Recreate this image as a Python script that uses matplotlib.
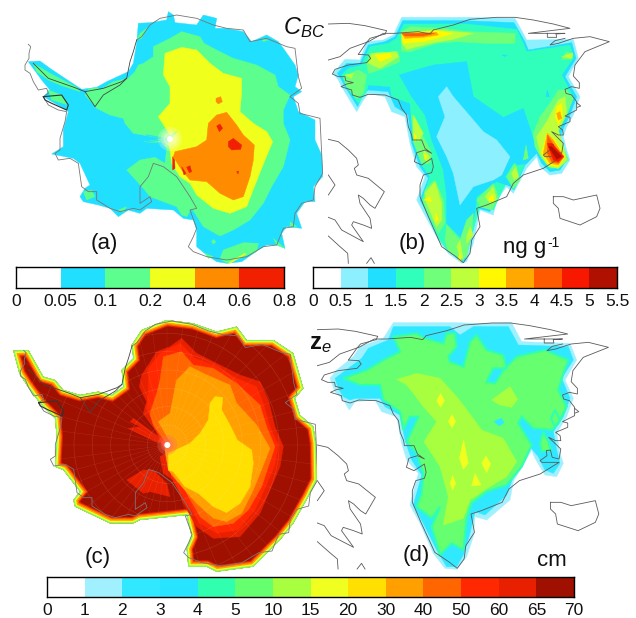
import numpy as np
import matplotlib
matplotlib.use("Agg")
import matplotlib.pyplot as plt
from matplotlib.patches import Polygon, Circle
from matplotlib.colors import ListedColormap

plt.rcParams['font.family'] = ['Liberation Sans', 'DejaVu Sans']
plt.rcParams['mathtext.fontset'] = 'custom'
plt.rcParams['mathtext.rm'] = 'Liberation Sans'
plt.rcParams['mathtext.it'] = 'Liberation Sans:italic'
plt.rcParams['mathtext.bf'] = 'Liberation Sans:bold'
plt.rcParams['mathtext.default'] = 'regular'

# ---- colour scales -------------------------------------------------------
levels_a = ['0', '0.05', '0.1', '0.2', '0.4', '0.6', '0.8']
colors_a = ['#FFFFFF', '#20DFFF', '#5CFF8E', '#F0FF1C', '#FF8C00', '#F02000']
levels_b = ['0', '0.5', '1', '1.5', '2', '2.5', '3', '3.5', '4', '4.5', '5', '5.5']
colors_b = ['#FFFFFF', '#8CF0FF', '#20DFFF', '#30FFBC', '#70FF78', '#BEFF3C',
            '#FFF800', '#FFA800', '#FF5A00', '#F81800', '#B01000']
levels_cd = ['0', '1', '2', '3', '4', '5', '10', '15', '20', '30', '40', '50', '60', '65', '70']
colors_cd = ['#FFFFFF', '#A0F0FF', '#30E8FF', '#28E4FF', '#30FFB0', '#66FF70', '#A8FF40',
             '#F0FF20', '#FFE000', '#FFA000', '#FF6600', '#FF2800', '#E82000', '#A01000']

# ---- coastlines (map coordinates) ----------------------------------------
antarctic_coast = [(85,133),(92,140),(87,160),(87,175),(75,195),(75,210),(90,220),(100,245),(115,270),(140,265),(145,280),
    (130,290),(145,315),(175,330),(200,335),(195,365),(180,415),(180,450),(165,460),(175,480),(210,475),(235,490),
    (245,560),(265,575),(290,575),(290,600),(330,625),(360,635),(400,625),(420,630),(455,605),(450,590),(420,610),
    (420,560),(445,530),(460,490),(490,500),(530,530),(570,590),(590,625),(570,630),(590,685),(580,710),(565,740),
    (580,755),(620,770),(680,780),(740,770),(790,740),(830,735),(850,685),(880,680),(885,640),(905,610),(940,600),
    (945,560),(968,520),(965,460),(960,355),(900,340),(895,310),(870,290),(905,265),(895,230),(885,145),(860,140),
    (800,115),(750,125),(730,90),(680,85),(640,75),(590,55),(530,45),(505,50),(480,55),(450,75),(425,110),(410,120)]
antarctic_inner = [(100,190),(145,235),(225,263),(255,275),(285,320),(310,285),(360,255),(380,235),(390,185),(400,155),(410,120)]
antarctic_ridge = [(255,275),(310,265),(365,245),(380,235)]
antarctic_loop = [(130,290),(185,285),(205,315),(200,330),(155,310),(135,300),(130,290)]

greenland_west = [(145,163),(175,165),(182,175),(170,188),(115,195),(75,208),(67,222),(85,230),(105,230),(107,242),(130,248),
    (110,252),(93,260),(125,270),(127,285),(150,292),(175,283),(225,285),(265,300),(275,325),(290,345),(295,380),(305,405),
    (307,420),(335,420),(345,445),(365,460),(345,450),(320,458),(313,485),(335,495),(365,475),(370,500),(365,518),(340,525),
    (330,555),(330,590),(355,650),(395,740),(435,768),(460,788),(480,760),(485,720),(510,680),(500,625),(530,615),(590,590),
    (610,550),(640,525),(700,505),(755,470),(705,470),(700,465),(720,450),(718,435),(730,433),(735,455),(755,460),(760,430),
    (725,395),(745,405),(760,405),(758,390),(745,380),(780,365),(780,352),(765,348),(800,330),(800,305),(785,285),(768,280),
    (765,268),(785,260),(808,265),(808,248),(790,228),(795,195),(825,155),(898,125),(840,110),(790,115),(745,130),(720,135),
    (735,122),(765,115)]
greenland_north = [(225,102),(180,115),(170,127),(145,163)]
greenland_north2 = [(175,125),(220,100),(255,100),(325,95),(360,102),(370,90),(430,75),(480,58),(560,52),(615,52),(670,60),
    (730,72),(780,85),(655,100),(765,100),(738,102),(740,112),(712,112),(712,100)]
islet = [(800,308),(812,318),(802,322)]
canada_a = [(55,72),(115,70),(165,77),(230,92),(225,102)]
canada_b = [(55,180),(90,170),(120,145),(175,125)]
canada_c = [(55,418),(85,425),(115,450),(140,475),(145,495),(133,505),(140,525),(175,535),(223,575),(195,625),(180,615),
    (160,595),(145,585),(150,610),(180,655),(185,685),(160,675),(130,665),(125,675),(160,725),(95,690),(75,660),(55,652)]
canada_f = [(55,525),(75,555),(55,585)]
canada_d = [(55,708),(90,740),(113,760),(115,790)]
canada_e = [(170,790),(183,773),(193,790)]
iceland = [(730,590),(760,590),(790,600),(860,585),(870,625),(860,650),(810,675),(750,655),(745,625),(730,610),(730,590)]

# ---- panel (a) regions ---------------------------------------------------
a_outer = [(85,185),(120,183),(150,205),(195,235),(245,268),(290,262),(320,245),(385,215),(400,190),(410,130),(415,70),
    (450,68),(500,60),(505,35),(520,45),(525,68),(590,75),(610,45),(650,55),(645,85),(680,85),(730,95),(755,125),
    (800,105),(835,125),(850,145),(885,195),(895,225),(885,260),(905,275),(880,290),(895,335),(945,360),(945,420),
    (965,465),(968,530),(940,560),(945,605),(915,605),(890,640),(905,685),(860,680),(845,700),(855,745),(830,735),
    (800,735),(775,750),(725,785),(680,790),(650,785),(620,765),(590,740),(590,690),(580,660),(550,655),(520,630),
    (440,625),(420,640),(385,630),(355,650),(330,625),(295,615),(250,605),(240,590),(255,565),(270,555),(240,490),
    (220,475),(155,462),(190,440),(190,390),(205,335),(190,325),(130,290),(150,270),(125,240)]
a_green = [[(545,95),(600,110),(612,130),(650,150),(700,175),(770,195),(825,225),(835,260),(870,285),(850,330),(850,370),
    (870,420),(850,500),(815,560),(790,610),(750,660),(700,690),(660,708),(610,680),(585,640),(575,625),(560,650),
    (545,645),(530,620),(450,590),(430,565),(380,510),(420,480),(465,472),(495,490),(500,445),(490,428),(430,426),
    (490,416),(400,400),(375,370),(370,355),(330,345),(290,325),(255,285),(265,268),(290,262),(300,270),(340,245),
    (385,235),(410,260),(410,285),(435,290),(415,315),(400,325),(395,315),(410,300),(380,240),(405,215),(415,195),
    (430,190),(460,170),(460,140),(510,115)],
    [(100,190),(150,220),(230,262),(240,275),(180,255),(145,240),(110,215)],
    [(145,270),(185,285),(205,315),(155,300)],
    [(250,575),(275,570),(285,590),(260,600)],
    [(355,630),(380,620),(370,635)],
    [(420,100),(440,85),(425,115),(410,120)],
    [(615,760),(640,770),(625,775)],
    [(670,750),(730,728),(775,730),(770,755),(720,775),(680,790),(660,775)],
    [(820,715),(855,745),(830,735)],
    [(870,665),(890,680),(870,680)],
    [(640,718),(648,725),(640,733),(635,725)],
    [(785,118),(805,120),(790,125)]]
a_yellow = [[(495,160),(545,142),(590,150),(630,190),(670,220),(725,235),(725,275),(720,335),(760,370),(800,395),(818,425),
    (795,480),(775,530),(740,620),(690,640),(640,625),(590,585),(570,550),(540,530),(515,490),(510,450),(505,430),
    (535,390),(510,405),(475,350),(510,310),(510,260),(490,225)]]
a_orange = [[(625,370),(650,345),(680,337),(710,375),(730,405),(763,435),(760,480),(750,530),(730,590),(700,600),(660,580),
    (620,545),(570,540),(545,510),(520,470),(525,455),(590,440),(620,420)],
    [(648,295),(662,290),(667,305),(655,312),(648,305)]]
a_red = [[(650,378),(660,372),(668,385),(658,395)],
    [(685,425),(700,415),(725,435),(722,448),(695,450),(685,440)],
    [(560,502),(570,497),(575,515),(568,518)],
    [(518,470),(524,480),(525,505),(518,510)],
    [(545,500),(558,520),(552,525)],
    [(710,515),(716,513),(714,522)]]

# ---- panel (b) regions ---------------------------------------------------
b_light = [(275,52),(470,52),(615,55),(645,110),(650,120),(790,118),(805,175),(775,230),(810,290),(790,345),(770,380),
    (760,410),(770,450),(780,480),(755,520),(720,525),(690,500),(680,470),(650,505),(610,580),(590,560),(560,600),
    (550,645),(510,630),(490,730),(470,785),(455,790),(415,760),(385,720),(320,600),(345,530),(320,500),(300,430),
    (285,350),(245,335),(225,290),(175,280),(160,300),(140,335),(95,260),(85,240),(70,220),(105,178),(150,180),
    (170,125),(220,120),(250,105)]
b_blue = [(278,62),(465,62),(612,68),(645,125),(655,150),(785,128),(798,175),(765,230),(800,290),(780,345),(760,385),
    (750,410),(762,450),(770,480),(750,510),(720,515),(695,490),(680,460),(645,495),(612,570),(590,550),(555,590),
    (540,635),(505,625),(482,720),(465,780),(455,785),(420,755),(395,720),(330,600),(355,535),(330,500),(305,430),
    (295,345),(255,320),(235,275),(175,270),(160,280),(143,320),(105,260),(92,235),(82,220),(110,190),(150,190),
    (175,135),(225,125),(255,110)]
b_sea = [(282,72),(470,72),(620,88),(640,130),(650,155),(780,135),(790,175),(755,225),(790,290),(770,345),(745,390),
    (755,430),(775,480),(745,505),(720,505),(695,475),(680,450),(645,490),(610,570),(590,545),(550,630),(510,620),
    (480,720),(465,775),(450,775),(415,755),(385,715),(335,600),(360,530),(335,495),(310,425),(300,310),(245,290),
    (240,260),(175,255),(170,275),(145,310),(110,260),(95,225),(115,205),(155,195),(180,140),(235,130),(260,115)]
b_inner_blue = [[(268,225),(300,215),(370,195),(470,185),(490,290),(580,352),(640,325),(668,410),(680,455),(650,490),
    (625,495),(610,490),(585,530),(605,560),(560,545),(500,590),(495,640),(470,710),(455,715),(410,670),(410,590),
    (400,510),(365,420),(345,345),(305,290)],
    [(712,270),(718,290),(708,290)],
    [(576,165),(592,165),(584,170)]]
b_inner_light = [(410,260),(430,290),(520,395),(560,420),(600,470),(575,525),(550,540),(490,560),(450,615),(430,520),
    (410,470),(380,410),(405,350),(385,290)]
b_green = [[(275,95),(300,80),(400,85),(470,95),(615,100),(615,130),(530,130),(440,125),(380,130),(300,155),(275,155)],
    [(180,160),(265,155),(270,185),(210,210),(175,220),(170,190)],
    [(100,230),(145,210),(170,225),(160,280),(140,295),(110,260)],
    [(770,155),(790,165),(785,178),(755,178)],
    [(745,270),(770,270),(790,295),(770,345),(745,395),(755,430),(775,480),(745,505),(720,500),(695,475),(675,440),
     (670,400),(690,350),(720,310)],
    [(305,345),(345,420),(365,460),(360,490),(335,490),(310,425)],
    [(345,570),(375,540),(400,600),(405,670),(385,700),(340,610)],
    [(410,675),(450,720),(470,660),(490,640),(485,700),(470,770),(450,775),(415,755),(405,720)],
    [(500,600),(550,550),(565,590),(545,630),(510,620)],
    [(615,490),(630,540),(610,565),(590,530)],
    [(640,480),(648,435),(655,475)]]
b_ygreen = [[(275,100),(380,90),(490,100),(430,118),(370,128),(290,148),(275,130)],
    [(185,160),(260,155),(265,170),(210,205),(175,190)],
    [(105,225),(130,220),(125,235)],
    [(755,170),(788,158),(785,175)],
    [(745,300),(765,290),(770,340),(745,390),(760,440),(770,480),(745,505),(715,500),(690,460),(680,410),(710,365)],
    [(310,345),(340,400),(325,425),(310,400)],
    [(340,450),(360,470),(350,490)],
    [(345,580),(375,545),(395,610),(395,660),(380,680),(350,610)],
    [(440,740),(450,720),(460,780),(450,770)],
    [(470,710),(480,680),(490,705),(470,730)],
    [(525,590),(550,560),(560,600),(540,610)],
    [(605,520),(618,500),(625,530),(612,540)]]
b_yellow = [[(275,100),(380,92),(430,100),(380,115),(340,125),(280,130)],
    [(195,165),(240,160),(245,170),(210,185)],
    [(740,320),(755,310),(758,350),(745,375),(735,350)],
    [(710,400),(735,420),(765,470),(745,500),(715,495),(695,460)],
    [(310,400),(320,410),(315,425)],
    [(340,460),(350,470),(345,480)],
    [(340,600),(360,590),(365,605)],
    [(378,640),(385,660),(375,665)],
    [(448,760),(455,785),(445,780)],
    [(540,590),(550,585),(552,605),(535,600)]]
b_amber = [[(275,100),(380,97),(385,105),(340,112),(285,115)],
    [(740,340),(750,335),(755,355),(745,360)],
    [(712,400),(730,420),(762,470),(745,495),(720,490),(700,460)]]
b_dorange = [[(275,100),(375,100),(340,108),(285,108)],
    [(712,405),(735,440),(762,470),(745,490),(725,485),(712,460)]]
b_red = [[(712,430),(725,430),(760,470),(745,485),(730,480)]]
b_dark = [[(716,440),(725,440),(755,470),(740,478)]]

# ---- panel (c) regions ---------------------------------------------------
c_outline = [(40,122),(85,120),(130,200),(165,210),(190,240),(240,255),(295,245),(335,255),(370,230),(365,180),(400,145),
    (395,105),(425,60),(500,30),(580,40),(650,65),(710,50),(740,90),(820,90),(880,130),(910,235),(885,265),(900,315),
    (940,350),(948,400),(950,510),(925,560),(880,640),(840,690),(760,770),(650,785),(620,770),(565,770),(560,715),
    (575,680),(560,615),(420,630),(400,640),(330,640),(225,590),(220,570),(240,545),(190,480),(165,470),(170,380),
    (165,325),(120,280),(80,225),(58,190)]
c_r65 = [[(545,85),(590,130),(640,155),(720,195),(780,215),(805,270),(825,350),(850,410),(840,470),(810,540),(780,610),
    (720,680),(640,685),(590,650),(550,580),(530,530),(520,510),(490,490),(480,440),(500,430),(490,400),(465,395),
    (385,355),(420,350),(390,335),(400,325),(490,390),(455,345),(430,310),(440,275),(418,230),(425,195),(445,165),
    (470,125),(510,110)],
    [(380,510),(430,480),(460,480),(500,520),(510,560),(450,545),(430,550)]]
c_r50 = [[(540,100),(585,145),(640,165),(710,205),(770,230),(790,280),(810,350),(835,405),(825,465),(795,535),(765,600),
    (715,660),(650,670),(600,640),(560,580),(520,515),(500,430),(460,345),(440,290),(445,240),(445,175),(480,130)]]
c_o40 = [[(490,140),(545,125),(580,165),(640,175),(710,220),(780,285),(800,350),(825,410),(785,530),(745,600),(700,640),
    (640,650),(600,620),(555,540),(515,495),(500,430),(495,395),(460,345),(450,310),(470,250),(480,210)]]
c_a30 = [[(475,335),(510,310),(530,210),(570,170),(610,190),(690,225),(710,280),(770,345),(810,415),(760,540),(725,610),
    (680,635),(640,625),(590,580),(550,535),(505,480),(495,420),(510,395)]]
c_g20 = [[(630,280),(645,260),(668,262),(665,300),(690,345),(712,390),(755,420),(760,460),(750,530),(720,580),(680,608),
    (640,590),(595,550),(555,530),(520,485),(505,480),(505,430),(570,400),(600,370),(625,330)]]

# ---- panel (d) regions ---------------------------------------------------
d_light = [(280,38),(465,38),(525,40),(635,38),(665,95),(810,100),(830,150),(795,210),(820,265),(800,320),(770,370),
    (780,430),(790,460),(770,500),(735,495),(705,445),(695,420),(640,515),(630,570),(560,630),(525,620),(520,680),
    (500,740),(470,778),(435,775),(400,730),(360,640),(330,585),(355,490),(320,450),(305,400),(290,320),(245,305),
    (225,270),(165,275),(148,300),(130,270),(105,245),(90,205),(110,180),(160,140),(180,110),(250,85)]
d_blue = [(280,50),(365,50),(450,50),(480,75),(520,50),(625,50),(655,105),(805,110),(820,150),(785,205),(810,265),
    (790,320),(760,365),(770,420),(780,460),(760,490),(735,480),(715,440),(690,410),(640,500),(620,555),(555,615),
    (525,605),(510,670),(490,735),(470,770),(440,770),(410,720),(370,640),(340,585),(365,495),(335,450),(315,390),
    (300,315),(255,290),(240,265),(165,265),(150,270),(130,260),(115,235),(105,205),(125,190),(185,145),(205,115),(265,90)]
d_green = [[(280,80),(350,70),(375,85),(430,100),(440,70),(465,70),(470,110),(445,140),(450,155),(490,170),(510,95),(530,75),
    (560,120),(610,135),(620,175),(580,175),(560,215),(585,220),(610,180),(650,140),(735,120),(805,150),(790,190),(775,240),
    (800,290),(775,340),(755,360),(700,355),(665,320),(655,340),(695,405),(665,470),(620,525),(560,545),(515,580),(500,625),
    (490,720),(455,700),(420,735),(395,650),(420,590),(395,625),(350,590),(365,550),(370,490),(350,430),(320,395),(355,320),
    (330,320),(310,360),(300,305),(250,270),(240,225),(180,225),(130,205),(200,180),(250,150),(300,125)],
    [(730,365),(745,395),(752,420),(725,425),(720,400)],
    [(765,300),(780,330),(765,350),(753,325)]]
d_pocket = [(590,330),(605,325),(612,338),(598,348),(582,335)]
d_ygreen = [[(290,208),(350,190),(420,205),(470,260),(490,285),(545,360),(610,385),(650,455),(620,500),(570,530),(510,570),
    (490,625),(430,645),(445,560),(420,470),(372,395),(410,335),(370,290),(340,250),(320,225)],
    [(575,270),(630,230),(653,268),(635,292),(600,285)]]
d_yellow = [[(422,250),(433,272),(422,292),(410,272)],
    [(456,313),(467,335),(456,353),(445,335)],
    [(491,390),(505,460),(490,478),(478,445)],
    [(558,438),(572,462),(560,488),(545,460)],
    [(525,490),(543,525),(515,528)],
    [(458,497),(467,520),(458,540),(450,520)]]

W, H = 636, 618
fig = plt.figure(figsize=(W / 100, H / 100), dpi=100)
fig.patch.set_facecolor('white')
COAST = '#5a5a5a'
LW = 0.6
greenland_lines = (greenland_west, greenland_north, greenland_north2, islet, canada_a, canada_b,
                   canada_c, canada_f, canada_d, canada_e, iceland)


def map_axes(px0, py0, pw, ph, xlim, ylim):
    ax = fig.add_axes([px0 / W, 1 - (py0 + ph) / H, pw / W, ph / H])
    ax.set_xlim(*xlim)
    ax.set_ylim(*ylim)
    ax.axis('off')
    return ax


def fill(ax, polys, color, z=1):
    for p in polys:
        ax.add_patch(Polygon(p, closed=True, fc=color, ec=color, lw=0.3, zorder=z))


def line(ax, pts, color=COAST, lw=LW, tf=None):
    a = np.array(pts, float)
    if tf is not None:
        a = tf(a)
    ax.plot(a[:, 0], a[:, 1], color=color, lw=lw, zorder=10, solid_joinstyle='round')


def antarctic_lines(ax, tf=None):
    line(ax, antarctic_coast, '#777777', tf=tf)
    line(ax, antarctic_inner, '#444444', tf=tf)
    line(ax, antarctic_ridge, '#444444', tf=tf)
    line(ax, antarctic_loop, '#333333', 0.8, tf=tf)


# panel (a)
pole_a = (510, 417)
ax = map_axes(0, 0, 323, 300, (0, 969), (900, 0))
fill(ax, [a_outer], colors_a[1])
fill(ax, a_green, colors_a[2], 2)
fill(ax, a_yellow, colors_a[3], 3)
fill(ax, a_orange, colors_a[4], 4)
fill(ax, a_red, colors_a[5], 5)
for r, al in zip((36, 28, 20), (0.25, 0.3, 0.45)):
    ax.add_patch(Circle(pole_a, r, fc='#F8FFD0', ec='none', alpha=al, zorder=6))
for px, py in [(440, 405), (425, 428), (445, 442), (470, 460)]:
    ax.plot([px, 505], [py, 417], color=colors_a[1], lw=0.9, alpha=0.8, zorder=3)
ax.plot([690, 735], [788, 762], color=colors_a[3], lw=1.2, zorder=5)
ax.add_patch(Circle(pole_a, 9, fc='white', ec='none', zorder=7))
antarctic_lines(ax)

# panel (c)
ax = map_axes(0, 310, 317, 290, (0, 951), (870, 0))
outline = Polygon(c_outline, closed=True, fc=colors_cd[13], ec='none', zorder=1)
ax.add_patch(outline)
for col, w in [(colors_cd[12], 9.0), (colors_cd[10], 7.4), (colors_cd[9], 5.6), (colors_cd[7], 3.6), (colors_cd[5], 1.6)]:
    ax.add_patch(Polygon(c_outline, closed=True, fc='none', ec=col, lw=w, joinstyle='miter', zorder=2,
                         clip_path=outline))
fill(ax, c_r65, colors_cd[12], 3)
fill(ax, c_r50, colors_cd[11], 4)
fill(ax, c_o40, colors_cd[10], 5)
fill(ax, c_a30, colors_cd[9], 6)
fill(ax, c_g20, colors_cd[8], 7)
pole_c = (502, 405)
for r in np.arange(60, 520, 55):
    ax.add_patch(Circle(pole_c, r, fc='none', ec='white', lw=0.4, alpha=0.14, zorder=8, clip_path=outline))
for ang in np.arange(0, 360, 7.5):
    ax.plot([pole_c[0], pole_c[0] + 560 * np.cos(np.radians(ang))],
            [pole_c[1], pole_c[1] + 560 * np.sin(np.radians(ang))],
            color='white', lw=0.3, alpha=0.12, zorder=8, clip_path=outline)
for r, al in zip((30, 20, 12), (0.3, 0.35, 0.5)):
    ax.add_patch(Circle(pole_c, r, fc='#FF6A50', ec='none', alpha=al, zorder=8))
ax.add_patch(Circle(pole_c, 9, fc='white', ec='none', zorder=9))
antarctic_lines(ax, tf=lambda a: a + np.array([-14.0, -12.0]))

# panel (b)
ax = map_axes(328, 0, 308, 300, (54, 978), (900, 0))
fill(ax, [b_light], colors_b[1])
fill(ax, [b_blue], colors_b[2], 2)
fill(ax, [b_sea], colors_b[3], 3)
fill(ax, b_inner_blue, colors_b[2], 4)
fill(ax, [b_inner_light], colors_b[1], 5)
for i, polys in enumerate([b_green, b_ygreen, b_yellow, b_amber, b_dorange, b_red, b_dark]):
    fill(ax, polys, colors_b[4 + i], 6 + i)
for g in greenland_lines:
    line(ax, g)

# panel (d)
ax = map_axes(317, 310, 319, 308, (51, 1008), (924, 0))
fill(ax, [d_light], colors_cd[1])
fill(ax, [d_blue], colors_cd[2], 2)
for p in d_green:
    ax.add_patch(Polygon(p, closed=True, fc=colors_cd[5], ec=colors_cd[4], lw=1.6, zorder=3))
fill(ax, [d_pocket], colors_cd[2], 4)
fill(ax, d_ygreen, colors_cd[6], 5)
fill(ax, d_yellow, colors_cd[7], 6)
to_d = lambda a: np.column_stack([51 + (a[:, 0] - 54) * 1.036, a[:, 1] - 13])
for g in greenland_lines:
    line(ax, g, tf=to_d)


def colorbar(px0, py0, pw, ph, cols, labels, size=12.5, pad=4):
    ax = fig.add_axes([px0 / W, 1 - (py0 + ph) / H, pw / W, ph / H])
    n = len(cols)
    ax.pcolormesh(np.arange(n + 1), [0, 1], np.arange(n)[None, :], cmap=ListedColormap(cols), vmin=-0.5, vmax=n - 0.5)
    ax.set_yticks([])
    ax.set_xticks(np.arange(n + 1))
    ax.set_xticklabels(labels, fontsize=size, color='#111111')
    ax.tick_params(axis='x', length=0, pad=pad)
    for s in ax.spines.values():
        s.set_linewidth(1.0)
        s.set_color('black')


colorbar(16, 267, 268, 21, colors_a, levels_a)
colorbar(313, 267, 304, 21, colors_b, levels_b)
colorbar(47, 577, 527, 19.5, colors_cd, levels_cd, pad=5)


def label(px, py, s, size, **kw):
    fig.text(px / W, 1 - py / H, s, fontsize=size, ha='center', va='center', color='#111111', **kw)


label(104, 244, '(a)', 16)
label(412, 243, '(b)', 16)
label(98, 557, '(c)', 16)
label(416, 556, '(d)', 16)
label(304, 28, r'$\mathit{C}_{\mathit{BC}}$', 17)
label(525, 248, 'ng g', 16)
label(554, 243, '-1', 10)
label(320, 344, r'$\mathbf{z}_{\mathit{e}}$', 17)
label(552, 560, 'cm', 16)

fig.savefig('out.png', dpi=100)
